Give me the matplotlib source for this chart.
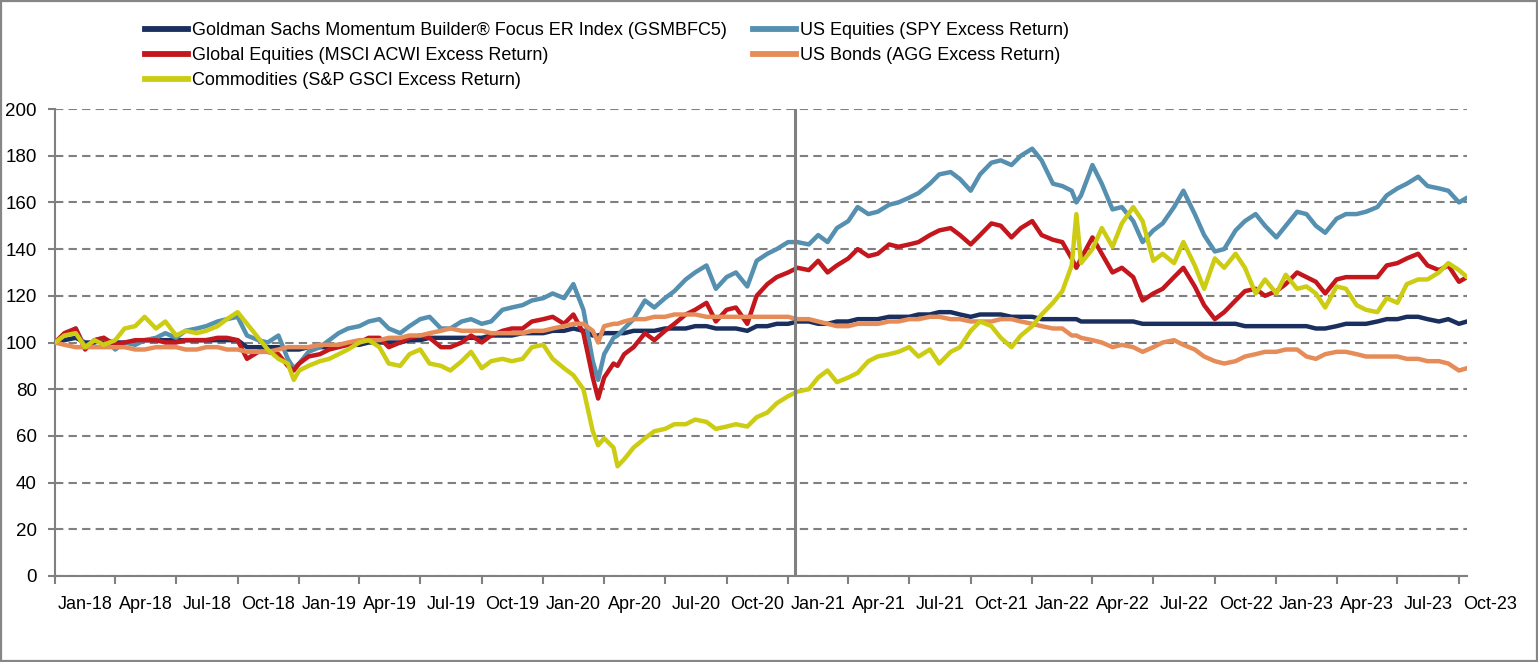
import numpy as np
import pandas as pd
import matplotlib
matplotlib.use('Agg')
import matplotlib.pyplot as plt
import matplotlib.dates as mdates
from matplotlib.lines import Line2D
from matplotlib.patches import Rectangle
from matplotlib.transforms import blended_transform_factory

plt.rcParams['font.family'] = ['Liberation Sans', 'DejaVu Sans']
plt.rcParams['font.size'] = 13

# semi-monthly observation dates (1st / 15th) plus the last print
obs_dates = pd.date_range('2018-01-01', '2023-10-01', freq='SMS')
last_date = '2023-10-13'
# a few turning points read separately
extra_dates = ['2018-12-24', '2020-03-23', '2020-04-21', '2022-03-08']
live_date = '2021-01-12'

labels = ['Goldman Sachs Momentum Builder\u00ae Focus ER Index (GSMBFC5)',
          'US Equities (SPY Excess Return)',
          'Global Equities (MSCI ACWI Excess Return)',
          'US Bonds (AGG Excess Return)',
          'Commodities (S&P GSCI Excess Return)']
colors = ['#1b2f5e', '#5590b0', '#c3161d', '#e68c58', '#cccc12']

gsmbfc5 = [100, 101, 102, 100, 100, 101, 100, 100, 100, 101, 101, 101,
           101, 101, 101, 101, 101, 101, 101, 98, 98, 98, 98, 97,
           97, 98, 98, 98, 99, 99, 99, 100, 100, 100, 100, 101,
           101, 102, 102, 102, 102, 102, 102, 103, 103, 103, 104, 104,
           104, 105, 105, 106, 105, 103, 104, 104, 104, 105, 105, 105,
           106, 106, 106, 107, 107, 106, 106, 106, 105, 107, 107, 108,
           108, 109, 109, 108, 108, 109, 109, 110, 110, 110, 111, 111,
           111, 112, 112, 113, 113, 112, 111, 112, 112, 112, 111, 111,
           111, 110, 110, 110, 110, 109, 109, 109, 109, 109, 109, 108,
           108, 108, 108, 108, 108, 108, 108, 108, 108, 107, 107, 107,
           107, 107, 107, 107, 106, 106, 107, 108, 108, 108, 109, 110,
           110, 111, 111, 110, 109, 110, 108, 109]
gsmbfc5_extra = [97, 103, 104, 110]

spy = [100, 103, 106, 98, 101, 102, 97, 100, 99, 101, 102, 104,
       102, 105, 106, 107, 109, 110, 111, 103, 101, 100, 103, 93,
       91, 96, 98, 101, 104, 106, 107, 109, 110, 106, 104, 107,
       110, 111, 106, 106, 109, 110, 108, 109, 114, 115, 116, 118,
       119, 121, 119, 125, 114, 92, 95, 102, 106, 110, 118, 115,
       119, 122, 127, 130, 133, 123, 128, 130, 124, 135, 138, 140,
       143, 143, 142, 146, 143, 149, 152, 158, 155, 156, 159, 160,
       162, 164, 168, 172, 173, 170, 165, 172, 177, 178, 176, 180,
       183, 178, 168, 167, 165, 163, 176, 168, 157, 158, 152, 143,
       148, 151, 158, 165, 155, 146, 139, 140, 148, 152, 155, 150,
       145, 150, 156, 155, 150, 147, 153, 155, 155, 156, 158, 163,
       166, 168, 171, 167, 166, 165, 160, 162]
spy_extra = [89, 84, 103, 160]

acwi = [100, 104, 106, 97, 101, 102, 99, 100, 101, 101, 101, 100,
        100, 101, 101, 101, 102, 102, 101, 93, 96, 96, 95, 90,
        91, 94, 95, 97, 98, 99, 100, 102, 102, 98, 100, 102,
        103, 102, 98, 98, 100, 103, 100, 103, 105, 106, 106, 109,
        110, 111, 108, 112, 104, 85, 85, 91, 95, 98, 104, 101,
        105, 108, 112, 114, 117, 109, 114, 115, 108, 120, 125, 128,
        130, 132, 131, 135, 130, 133, 136, 140, 137, 138, 142, 141,
        142, 143, 146, 148, 149, 146, 142, 146, 151, 150, 145, 149,
        152, 146, 144, 143, 136, 136, 145, 138, 130, 132, 128, 118,
        121, 123, 128, 132, 124, 116, 110, 113, 118, 122, 123, 120,
        122, 125, 130, 128, 126, 121, 127, 128, 128, 128, 128, 133,
        134, 136, 138, 133, 131, 133, 126, 128]
acwi_extra = [88, 76, 90, 132]

agg = [100, 99, 98, 98, 98, 98, 98, 98, 97, 97, 98, 98,
       98, 97, 97, 98, 98, 97, 97, 96, 96, 96, 97, 98,
       98, 98, 99, 99, 99, 100, 101, 101, 101, 102, 102, 103,
       103, 104, 105, 106, 105, 105, 105, 104, 104, 104, 104, 105,
       105, 106, 107, 108, 108, 105, 107, 108, 109, 110, 110, 111,
       111, 112, 112, 112, 111, 111, 111, 111, 111, 111, 111, 111,
       111, 110, 110, 109, 108, 107, 107, 108, 108, 108, 109, 109,
       110, 110, 111, 111, 110, 110, 109, 109, 109, 110, 110, 109,
       108, 107, 106, 106, 103, 102, 101, 100, 98, 99, 98, 96,
       98, 100, 101, 99, 97, 94, 92, 91, 92, 94, 95, 96,
       96, 97, 97, 94, 93, 95, 96, 96, 95, 94, 94, 94,
       94, 93, 93, 92, 92, 91, 88, 89]
agg_extra = [98, 100, 108, 103]

gsci = [100, 103, 104, 98, 101, 99, 101, 106, 107, 111, 106, 109,
        103, 105, 104, 105, 107, 110, 113, 108, 102, 97, 93, 91,
        88, 90, 92, 93, 95, 97, 100, 101, 98, 91, 90, 95,
        97, 91, 90, 88, 92, 96, 89, 92, 93, 92, 93, 98,
        99, 93, 89, 86, 80, 62, 59, 55, 50, 55, 59, 62,
        63, 65, 65, 67, 66, 63, 64, 65, 64, 68, 70, 74,
        77, 79, 80, 85, 88, 83, 85, 87, 92, 94, 95, 96,
        98, 94, 97, 91, 96, 98, 105, 109, 107, 102, 98, 103,
        107, 112, 117, 122, 133, 134, 140, 149, 141, 151, 158, 152,
        135, 138, 134, 143, 133, 123, 136, 132, 138, 132, 121, 127,
        121, 129, 123, 124, 121, 115, 124, 123, 116, 114, 113, 119,
        117, 125, 127, 127, 130, 134, 131, 128]
gsci_extra = [84, 56, 47, 155]

dates = obs_dates.append(pd.DatetimeIndex([last_date]))
df = pd.DataFrame({labels[0]: gsmbfc5, labels[1]: spy, labels[2]: acwi,
                   labels[3]: agg, labels[4]: gsci}, index=dates)
df_extra = pd.DataFrame({labels[0]: gsmbfc5_extra, labels[1]: spy_extra,
                         labels[2]: acwi_extra, labels[3]: agg_extra,
                         labels[4]: gsci_extra},
                        index=pd.to_datetime(extra_dates))
df = pd.concat([df, df_extra]).sort_index()

W, H = 1538, 662
fig = plt.figure(figsize=(W / 100, H / 100), dpi=100)
ax = fig.add_axes([55 / W, 86 / H, 1412 / W, 467 / H])

grey = '#808080'
handles = {}
for name, col in zip(labels, colors):
    ln, = ax.plot(df.index, df[name], color=col, lw=3.2, solid_capstyle='round',
                  solid_joinstyle='round', zorder=3)
    handles[name] = ln

ax.axvline(pd.Timestamp(live_date), color=grey, lw=2.2, zorder=5)

ax.set_ylim(0, 200)
ax.set_xlim(pd.Timestamp('2018-01-01'), pd.Timestamp(last_date))
ax.set_yticks(np.arange(0, 201, 20))
ax.yaxis.grid(True, linestyle=(0, (4, 2.5)), color=grey, lw=1.5, zorder=1)
ax.set_axisbelow(True)

for s in ['top', 'right']:
    ax.spines[s].set_visible(False)
for s in ['left', 'bottom']:
    ax.spines[s].set_color(grey)
    ax.spines[s].set_linewidth(1.5)

ax.tick_params(axis='y', length=5, width=1.5, color=grey, pad=8, labelsize=13.5)
ax.xaxis.set_major_locator(mdates.MonthLocator(bymonth=[1, 4, 7, 10]))
ax.xaxis.set_major_formatter(plt.NullFormatter())
ax.tick_params(axis='x', length=6, width=1.5, color=grey)

# quarter labels sit in the middle of each quarter
trans = blended_transform_factory(ax.transData, ax.transAxes)
quarters = pd.date_range('2018-01-01', '2023-10-01', freq='QS')
for q in quarters:
    mid = q + (q + pd.offsets.QuarterBegin(startingMonth=1) - q) / 2
    ax.text(mid, -0.062, q.strftime('%b-%y'), transform=trans, ha='center',
            va='center', fontsize=13, clip_on=False)

order = [labels[0], labels[2], labels[4], labels[1], labels[3]]
leg = ax.legend([Line2D([], [], color=handles[n].get_color(), lw=4.2) for n in order],
                order, ncol=2, loc='upper left', frameon=False,
                bbox_to_anchor=(145 / W, 1 - 22 / H), bbox_transform=fig.transFigure,
                borderaxespad=0, borderpad=0, handlelength=2.4, handletextpad=0.2,
                columnspacing=1.45, labelspacing=0.45, fontsize=13)

fig.patches.append(Rectangle((0.0008, 0.0015), 0.9984, 0.997, transform=fig.transFigure,
                             fill=False, edgecolor='#868686', lw=1.6))

fig.savefig('out.png', dpi=100)
